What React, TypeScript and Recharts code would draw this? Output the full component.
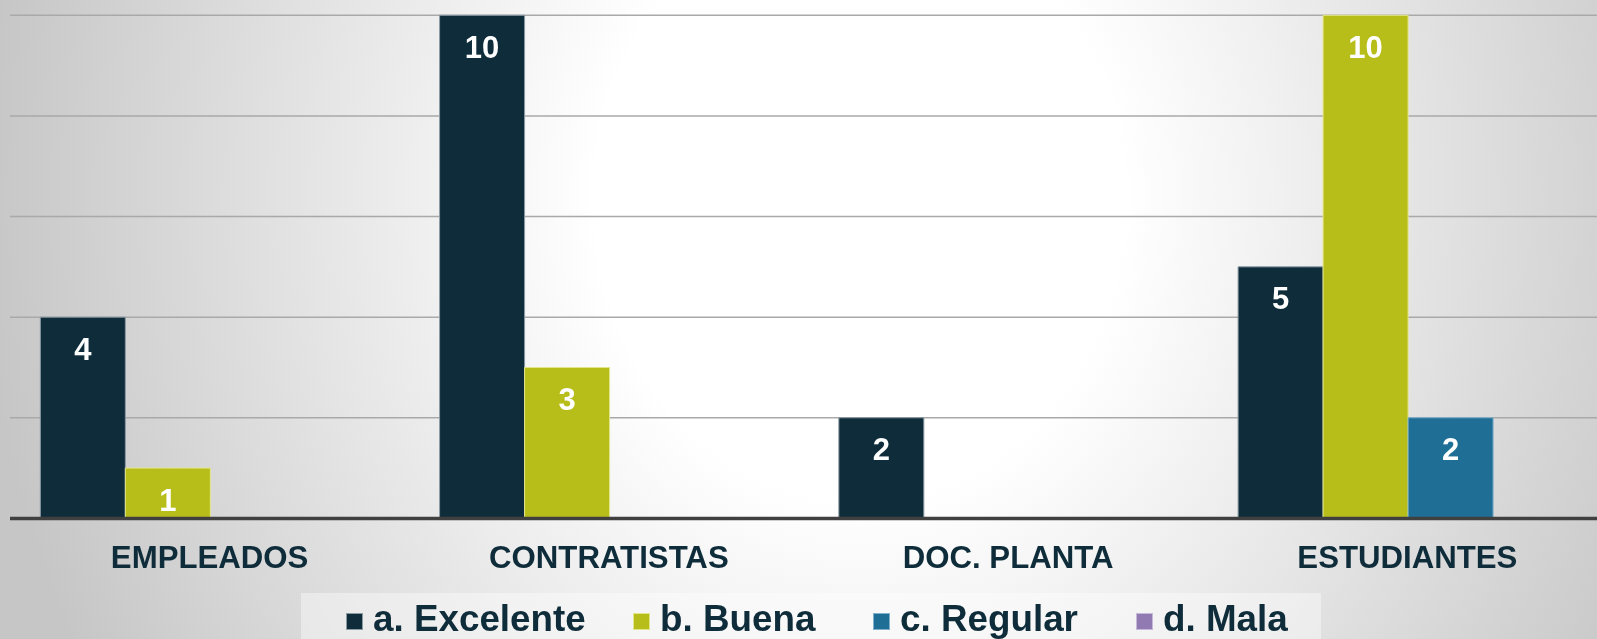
import { BarChart, Bar, XAxis, YAxis, CartesianGrid, LabelList } from 'recharts'

const CATEGORIES = ['EMPLEADOS', 'CONTRATISTAS', 'DOC. PLANTA', 'ESTUDIANTES']
const EXCELENTE = [4, 10, 2, 5]
const BUENA = [1, 3, 0, 10]
const REGULAR = [0, 0, 0, 2]
const MALA = [0, 0, 0, 0]
const Y_TICKS = [0, 2, 4, 6, 8, 10]

const SERIES = [
  { key: 'excelente', name: 'a. Excelente', color: '#0e2c3a', edge: '#8b9ba4', values: EXCELENTE },
  { key: 'buena', name: 'b. Buena', color: '#b8be19', edge: '#e4e68c', values: BUENA },
  { key: 'regular', name: 'c. Regular', color: '#1f6e96', edge: '#7fb0cc', values: REGULAR },
  { key: 'mala', name: 'd. Mala', color: '#9179b1', edge: '#c6b8d8', values: MALA },
]

// legend item x positions (page px)
const LEGEND_X = [346, 633, 873, 1136]

const FONT = '"Liberation Sans", Arial, sans-serif'
const INK = '#0e2c3a'

const data = CATEGORIES.map((name, i) => {
  const row: Record<string, string | number> = { name }
  SERIES.forEach((s) => { row[s.key] = s.values[i] })
  return row
})

function ValueLabel(props: any) {
  const { x, y, width, value } = props
  if (!value) return null
  return (
    <text x={x + width / 2} y={y + 42.5} textAnchor="middle" fill="#ffffff"
      fontSize={31} fontWeight="bold" fontFamily={FONT}>
      {value}
    </text>
  )
}

function CategoryTick(props: any) {
  const { x, payload } = props
  return (
    <text x={x} y={568} textAnchor="middle" fill={INK} fontSize={31.2} fontWeight="bold" fontFamily={FONT}>
      {payload.value}
    </text>
  )
}

export default function App() {
  return (
    <div style={{
      position: 'fixed', left: 0, top: 0, width: 1597, height: 639, overflow: 'hidden',
      background: 'radial-gradient(ellipse 880px 1000px at 860px 200px, #ffffff 0%, #ffffff 30%, #c6c6c6 100%)',
    }}>
      <BarChart width={1615} height={639} data={data}
        margin={{ top: 15.3, right: 8, left: 10, bottom: 60 }}
        barCategoryGap="7.6%" barGap={0}>
        <CartesianGrid vertical={false} stroke="#a9a9a9" strokeWidth={1.5} />
        <YAxis hide domain={[0, 10]} ticks={Y_TICKS} />
        <XAxis dataKey="name" height={60.6} tickLine={false} tick={<CategoryTick />}
          axisLine={{ stroke: '#404040', strokeWidth: 3.5 }} />
        {SERIES.map((s) => (
          <Bar key={s.key} dataKey={s.key} name={s.name} fill={s.color} stroke={s.edge}
            strokeWidth={1} isAnimationActive={false}>
            <LabelList dataKey={s.key} content={<ValueLabel />} />
          </Bar>
        ))}
      </BarChart>
      <div style={{
        position: 'absolute', left: 301, top: 593, width: 1020, height: 60,
        background: 'rgba(255,255,255,0.4)',
      }} />
      {SERIES.map((s, i) => (
        <div key={s.key} style={{
          position: 'absolute', left: LEGEND_X[i], top: 601, whiteSpace: 'nowrap',
          fontFamily: FONT, fontWeight: 'bold', fontSize: 36.8, lineHeight: '36px', color: INK,
        }}>
          <span style={{
            display: 'inline-block', width: 17, height: 17, background: s.color,
            border: `1px solid ${s.edge}`, boxSizing: 'border-box', marginRight: 10, verticalAlign: '1px',
          }} />
          {s.name}
        </div>
      ))}
    </div>
  )
}
